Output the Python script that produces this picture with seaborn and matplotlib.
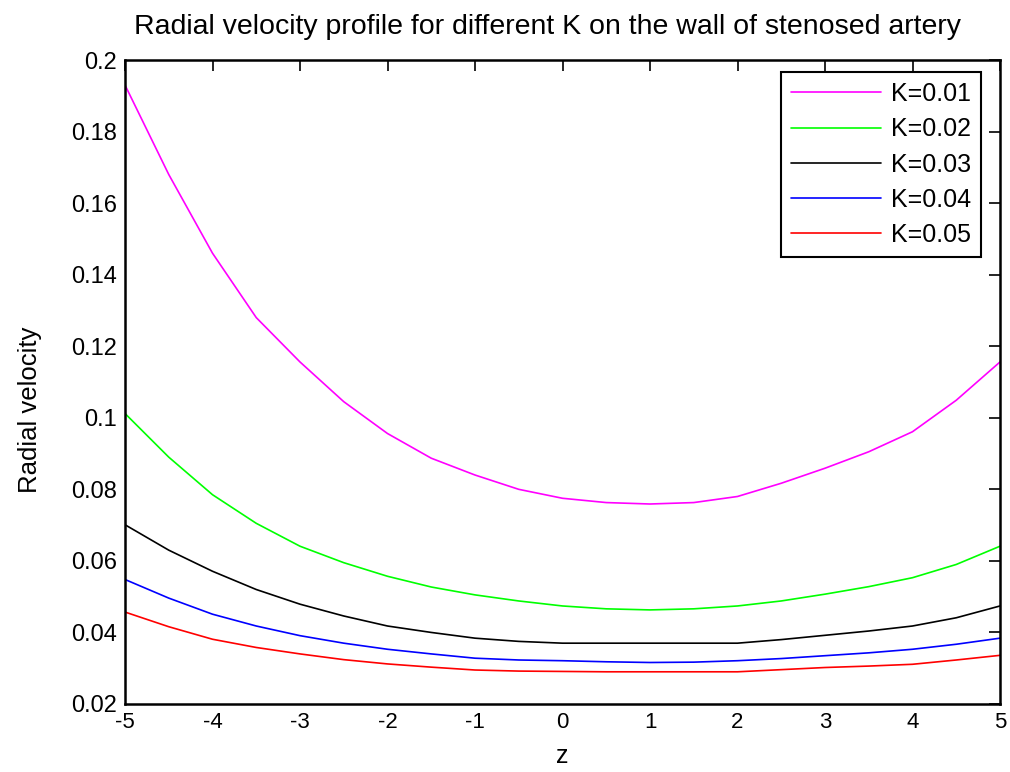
import numpy as np
import pandas as pd
import matplotlib
matplotlib.use("Agg")
import matplotlib.pyplot as plt
import seaborn as sns

# ---- data ----
z = [-5, -4.5, -4, -3.5, -3, -2.5, -2, -1.5, -1, -0.5, 0,
     0.5, 1, 1.5, 2, 2.5, 3, 3.5, 4, 4.5, 5]
k001 = [0.193, 0.168, 0.146, 0.128, 0.1156, 0.1045, 0.0956, 0.0887, 0.0840, 0.0800, 0.0775,
        0.0763, 0.0759, 0.0763, 0.0780, 0.0817, 0.0859, 0.0905, 0.0961, 0.1049, 0.1156]
k002 = [0.1012, 0.0890, 0.0785, 0.0705, 0.0641, 0.0595, 0.0557, 0.0527, 0.0505, 0.0488, 0.0474,
        0.0466, 0.0463, 0.0466, 0.0474, 0.0488, 0.0507, 0.0528, 0.0553, 0.0590, 0.0641]
k003 = [0.0701, 0.0630, 0.0571, 0.0520, 0.0479, 0.0446, 0.0418, 0.0400, 0.0384, 0.0375, 0.0370,
        0.0370, 0.0370, 0.0370, 0.0370, 0.0380, 0.0392, 0.0404, 0.0418, 0.0441, 0.0474]
k004 = [0.0548, 0.0496, 0.0451, 0.0418, 0.0391, 0.0370, 0.0353, 0.0340, 0.0328, 0.0323, 0.0321,
        0.0318, 0.0316, 0.0317, 0.0321, 0.0327, 0.0335, 0.0343, 0.0353, 0.0367, 0.0384]
k005 = [0.0457, 0.0416, 0.0381, 0.0358, 0.0340, 0.0324, 0.0312, 0.0303, 0.0295, 0.0292, 0.0291,
        0.0290, 0.0290, 0.0290, 0.0290, 0.0296, 0.0302, 0.0306, 0.0311, 0.0323, 0.0336]
series_names = ["K=0.01", "K=0.02", "K=0.03", "K=0.04", "K=0.05"]
series_colors = ["#FF00FF", "#00FF00", "#000000", "#0000FF", "#FF0000"]
x_ticks = [-5, -4, -3, -2, -1, 0, 1, 2, 3, 4, 5]
y_ticks = [0.02, 0.04, 0.06, 0.08, 0.1, 0.12, 0.14, 0.16, 0.18, 0.2]
y_tick_labels = ["0.02", "0.04", "0.06", "0.08", "0.1", "0.12", "0.14", "0.16", "0.18", "0.2"]

frames = []
for name, vals in zip(series_names, [k001, k002, k003, k004, k005]):
    frames.append(pd.DataFrame({"z": z, "v": vals, "K": name}))
df = pd.concat(frames, ignore_index=True)

sns.set_style("white")
plt.rcParams["font.family"] = ["Liberation Sans", "DejaVu Sans"]
plt.rcParams["text.color"] = "black"
plt.rcParams["axes.labelcolor"] = "black"
plt.rcParams["xtick.color"] = "black"
plt.rcParams["ytick.color"] = "black"

fig = plt.figure(figsize=(10.1, 7.72), dpi=100)
ax = fig.add_axes([125 / 1010, 1 - 704 / 772, 875 / 1010, 644 / 772])

sns.lineplot(data=df, x="z", y="v", hue="K", hue_order=series_names,
             palette=dict(zip(series_names, series_colors)), linewidth=1.2, ax=ax)

ax.set_xlim(-5, 5)
ax.set_ylim(0.02, 0.2)
ax.set_xticks(x_ticks)
ax.set_xticklabels([str(t) for t in x_ticks])
ax.set_yticks(y_ticks)
ax.set_yticklabels(y_tick_labels)
ax.tick_params(direction="in", length=8, width=1.2, top=True, right=True,
               colors="black", pad=6)
ax.tick_params(axis="y", labelsize=17)
ax.tick_params(axis="x", labelsize=16)
for s in ax.spines.values():
    s.set_visible(True)
    s.set_color("black")
    s.set_linewidth(1.8)

ax.set_xlabel("z", fontsize=18, labelpad=8)
ax.set_ylabel("Radial velocity", fontsize=18.5)
ax.yaxis.set_label_coords(-0.095, 0.457)
ax.set_title("Radial velocity profile for different K on the wall of stenosed artery",
             fontsize=20.5, pad=19, color="black", x=0.483)

leg = ax.legend(loc="upper right", bbox_to_anchor=(0.978, 0.981), borderaxespad=0,
                fontsize=18, frameon=True, fancybox=False, edgecolor="black",
                handlelength=3.6, handletextpad=0.4, labelspacing=0.45, borderpad=0.4)
leg.get_frame().set_linewidth(1.5)
leg.get_frame().set_alpha(1)
for line in leg.get_lines():
    line.set_linewidth(1.2)
for t in leg.get_texts():
    t.set_color("black")

fig.savefig("out.png", dpi=100)
